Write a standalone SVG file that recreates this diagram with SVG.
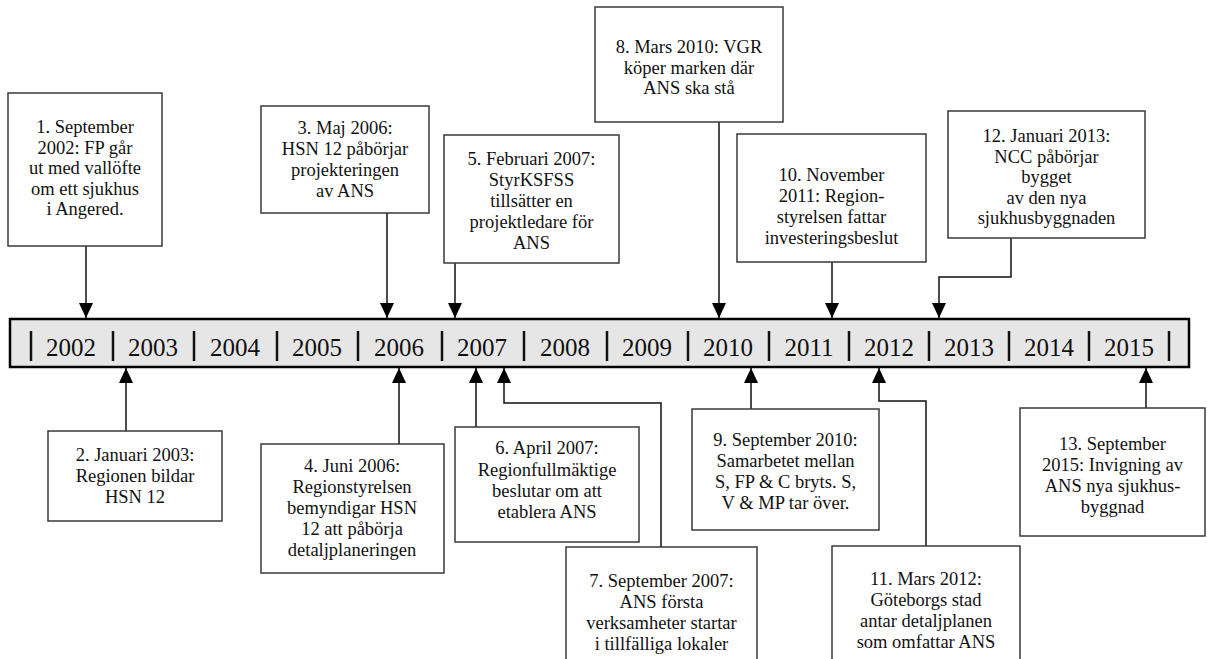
<svg xmlns="http://www.w3.org/2000/svg" width="1207" height="659" viewBox="0 0 1207 659">
<style>
  .box rect { fill: #ffffff; stroke: #3a3a3a; stroke-width: 1.5; }
  .box text { font-family: "Liberation Serif", "Times New Roman", serif; font-size: 18.5px; fill: #111; text-anchor: middle; }
  .conn path { fill: none; stroke: #111; stroke-width: 1.5; }
  .year { font-family: "Liberation Serif", "Times New Roman", serif; font-size: 25px; fill: #111; text-anchor: middle; }
  .pipe { stroke: #111; stroke-width: 2.5; }
</style>
<defs>
  <marker id="ah" markerUnits="userSpaceOnUse" markerWidth="16" markerHeight="15" refX="15" refY="7" orient="auto">
    <path d="M0,0 L15,7 L0,14 z" fill="#000"/>
  </marker>
</defs>
<rect width="1207" height="659" fill="#ffffff"/>

<g id="timeline">
  <rect x="10" y="319" width="1179" height="48" fill="#e6e6e6" stroke="#000" stroke-width="2.5"/>
  <line class="pipe" x1="31" y1="331" x2="31" y2="361"/>
  <line class="pipe" x1="113" y1="331" x2="113" y2="361"/>
  <line class="pipe" x1="194" y1="331" x2="194" y2="361"/>
  <line class="pipe" x1="277" y1="331" x2="277" y2="361"/>
  <line class="pipe" x1="358" y1="331" x2="358" y2="361"/>
  <line class="pipe" x1="442" y1="331" x2="442" y2="361"/>
  <line class="pipe" x1="524" y1="331" x2="524" y2="361"/>
  <line class="pipe" x1="607" y1="331" x2="607" y2="361"/>
  <line class="pipe" x1="688" y1="331" x2="688" y2="361"/>
  <line class="pipe" x1="769" y1="331" x2="769" y2="361"/>
  <line class="pipe" x1="849" y1="331" x2="849" y2="361"/>
  <line class="pipe" x1="929" y1="331" x2="929" y2="361"/>
  <line class="pipe" x1="1009" y1="331" x2="1009" y2="361"/>
  <line class="pipe" x1="1089" y1="331" x2="1089" y2="361"/>
  <line class="pipe" x1="1169" y1="331" x2="1169" y2="361"/>
  <text class="year" x="71" y="356">2002</text>
  <text class="year" x="153" y="356">2003</text>
  <text class="year" x="235" y="356">2004</text>
  <text class="year" x="317" y="356">2005</text>
  <text class="year" x="399" y="356">2006</text>
  <text class="year" x="482" y="356">2007</text>
  <text class="year" x="565" y="356">2008</text>
  <text class="year" x="647" y="356">2009</text>
  <text class="year" x="728" y="356">2010</text>
  <text class="year" x="809" y="356">2011</text>
  <text class="year" x="889" y="356">2012</text>
  <text class="year" x="969" y="356">2013</text>
  <text class="year" x="1049" y="356">2014</text>
  <text class="year" x="1129" y="356">2015</text>
</g>

<g id="connectors" class="conn">
  <path d="M86,246 V318" marker-end="url(#ah)"/>
  <path d="M387,213 V318" marker-end="url(#ah)"/>
  <path d="M455,263 V318" marker-end="url(#ah)"/>
  <path d="M719,122 V318" marker-end="url(#ah)"/>
  <path d="M832,262 V318" marker-end="url(#ah)"/>
  <path d="M1011,238 V277 H939 V318" marker-end="url(#ah)"/>
  <path d="M126,431 V368" marker-end="url(#ah)"/>
  <path d="M399,444 V368" marker-end="url(#ah)"/>
  <path d="M476,427 V368" marker-end="url(#ah)"/>
  <path d="M661,547 V403 H504 V368" marker-end="url(#ah)"/>
  <path d="M751,409 V368" marker-end="url(#ah)"/>
  <path d="M926,546 V401 H879 V368" marker-end="url(#ah)"/>
  <path d="M1146,408 V368" marker-end="url(#ah)"/>
</g>

<g id="n1" class="box">
  <rect x="8" y="93" width="154" height="153"/>
  <text x="85" y="133">1. September</text>
  <text x="85" y="153.5">2002: FP går</text>
  <text x="85" y="174">ut med vallöfte</text>
  <text x="85" y="194.5">om ett sjukhus</text>
  <text x="85" y="215">i Angered.</text>
</g>
<g id="n3" class="box">
  <rect x="261" y="106" width="168" height="107"/>
  <text x="345" y="134">3. Maj 2006:</text>
  <text x="345" y="155">HSN 12 påbörjar</text>
  <text x="345" y="176">projekteringen</text>
  <text x="345" y="197">av ANS</text>
</g>
<g id="n5" class="box">
  <rect x="444" y="135" width="175" height="128"/>
  <text x="531.5" y="165">5. Februari 2007:</text>
  <text x="531.5" y="186">StyrKSFSS</text>
  <text x="531.5" y="207">tillsätter en</text>
  <text x="531.5" y="228">projektledare för</text>
  <text x="531.5" y="249">ANS</text>
</g>
<g id="n8" class="box">
  <rect x="595" y="7" width="188" height="115"/>
  <text x="689" y="53">8. Mars 2010: VGR</text>
  <text x="689" y="73.5">köper marken där</text>
  <text x="689" y="94">ANS ska stå</text>
</g>
<g id="n10" class="box">
  <rect x="737" y="134" width="189" height="128"/>
  <text x="831.5" y="181">10. November</text>
  <text x="831.5" y="202">2011: Region-</text>
  <text x="831.5" y="223">styrelsen fattar</text>
  <text x="831.5" y="244">investeringsbeslut</text>
</g>
<g id="n12" class="box">
  <rect x="948" y="111" width="197" height="127"/>
  <text x="1046.5" y="142">12. Januari 2013:</text>
  <text x="1046.5" y="162.5">NCC påbörjar</text>
  <text x="1046.5" y="183">bygget</text>
  <text x="1046.5" y="203.5">av den nya</text>
  <text x="1046.5" y="224">sjukhusbyggnaden</text>
</g>
<g id="n2" class="box">
  <rect x="48" y="431" width="174" height="90"/>
  <text x="135" y="461">2. Januari 2003:</text>
  <text x="135" y="482">Regionen bildar</text>
  <text x="135" y="503">HSN 12</text>
</g>
<g id="n4" class="box">
  <rect x="261" y="444" width="183" height="129"/>
  <text x="352" y="472">4. Juni 2006:</text>
  <text x="352" y="493">Regionstyrelsen</text>
  <text x="352" y="514">bemyndigar HSN</text>
  <text x="352" y="535">12 att påbörja</text>
  <text x="352" y="556">detaljplaneringen</text>
</g>
<g id="n6" class="box">
  <rect x="455" y="427" width="184" height="115"/>
  <text x="547" y="454">6. April 2007:</text>
  <text x="547" y="475.5">Regionfullmäktige</text>
  <text x="547" y="497">beslutar om att</text>
  <text x="547" y="518">etablera ANS</text>
</g>
<g id="n7" class="box">
  <rect x="566" y="547" width="191" height="130"/>
  <text x="661.5" y="587">7. September 2007:</text>
  <text x="661.5" y="608">ANS första</text>
  <text x="661.5" y="629">verksamheter startar</text>
  <text x="661.5" y="650">i tillfälliga lokaler</text>
</g>
<g id="n9" class="box">
  <rect x="692" y="409" width="187" height="121"/>
  <text x="785.5" y="446">9. September 2010:</text>
  <text x="785.5" y="467">Samarbetet mellan</text>
  <text x="785.5" y="488">S, FP &amp; C bryts. S,</text>
  <text x="785.5" y="509">V &amp; MP tar över.</text>
</g>
<g id="n11" class="box">
  <rect x="832" y="546" width="188" height="130"/>
  <text x="926" y="585">11. Mars 2012:</text>
  <text x="926" y="606">Göteborgs stad</text>
  <text x="926" y="627">antar detaljplanen</text>
  <text x="926" y="648">som omfattar ANS</text>
</g>
<g id="n13" class="box">
  <rect x="1020" y="408" width="185" height="128"/>
  <text x="1112.5" y="450">13. September</text>
  <text x="1112.5" y="471">2015: Invigning av</text>
  <text x="1112.5" y="492">ANS nya sjukhus-</text>
  <text x="1112.5" y="513">byggnad</text>
</g>
</svg>
